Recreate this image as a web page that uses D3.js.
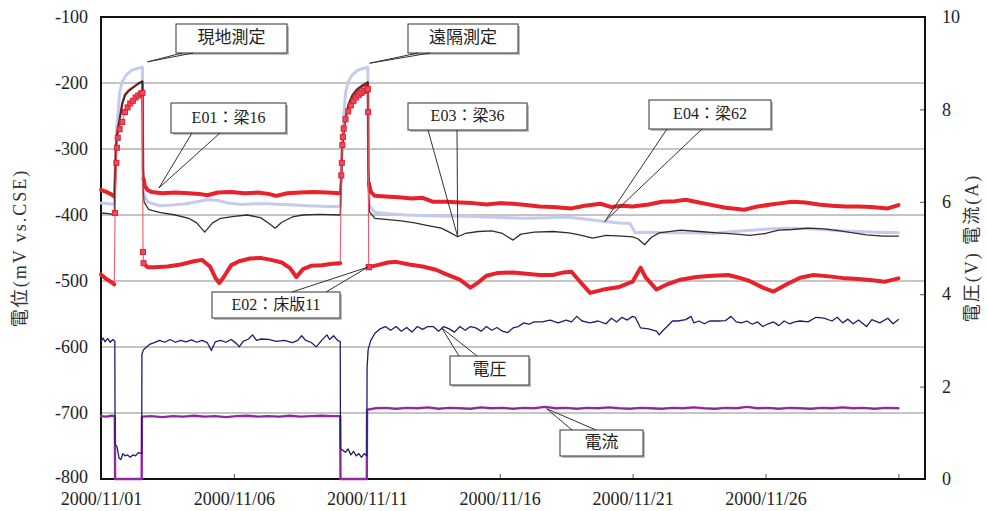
<!DOCTYPE html>
<html>
<head>
<meta charset="utf-8">
<script src="https://cdn.jsdelivr.net/npm/d3@7"></script>
<style>
  body { margin: 0; background: #fff; }
  svg { display: block; }
</style>
</head>
<body>
<svg id="chart" width="987" height="511"></svg>
<script>
// ---- data: days after 2000/11/01 00:00, value ----
const startDate = new Date(2000, 10, 1);
const endDate = new Date(2000, 11, 2);
const xTickDates = ["2000/11/01", "2000/11/06", "2000/11/11", "2000/11/16", "2000/11/21", "2000/11/26", "2000/12/01"];
const xTickLabels = ["2000/11/01", "2000/11/06", "2000/11/11", "2000/11/16", "2000/11/21", "2000/11/26", ""];
const potentialTicks = [-100, -200, -300, -400, -500, -600, -700, -800];
const powerTicks = [0, 2, 4, 6, 8, 10];
// current switched off (instant-off measurements)
const offPeriods = [[0.5, 1.6], [9.0, 10.08]];

// E01 : 梁16 (mV)
const e01 = [
  [0, -362], [0.2, -365], [0.4, -369], [0.5, -372],
  [0.53, -345], [0.56, -300], [0.6, -280], [0.7, -255], [0.8, -231], [0.9, -218], [1.05, -211], [1.2, -207], [1.4, -201], [1.56, -198],
  [1.58, -330], [1.6, -345], [1.65, -356], [1.75, -362], [1.9, -365], [2.3, -367], [2.8, -366], [3.3, -367], [3.7, -368], [4.0, -370],
  [4.4, -366], [4.9, -365], [5.4, -367], [5.9, -366], [6.3, -368], [6.6, -371], [7.0, -367], [7.5, -366], [8.0, -365], [8.5, -366], [9.0, -367],
  [9.04, -345], [9.07, -300], [9.12, -278], [9.2, -255], [9.3, -236], [9.45, -222], [9.6, -213], [9.8, -206], [10.0, -201], [10.04, -200],
  [10.06, -330], [10.08, -352], [10.15, -365], [10.3, -371], [10.7, -372], [11.2, -373], [11.7, -375], [12.1, -374], [12.5, -380],
  [13.0, -380], [13.5, -381], [14.0, -382], [14.5, -384], [15.0, -382], [15.5, -383], [16.0, -385], [16.5, -387], [17.0, -388],
  [17.7, -390], [18.2, -386], [18.8, -383], [19.2, -388], [19.6, -386], [20.0, -387], [20.6, -384], [21.1, -380], [21.6, -379],
  [22.0, -377], [22.5, -381], [23.0, -385], [23.5, -389], [24.2, -392], [24.6, -388], [25.2, -384], [25.6, -382], [26.0, -380],
  [26.5, -381], [27.0, -384], [27.5, -386], [28.0, -387], [28.5, -387], [29.0, -388], [29.6, -390], [30.0, -385]
];

// E02 : 床版11 (mV)
const e02 = [
  [0, -490], [0.2, -497], [0.4, -502], [0.5, -505],
  [0.53, -397], [0.58, -321], [0.6, -298], [0.63, -283], [0.7, -270], [0.8, -259], [0.9, -244], [1.0, -237], [1.1, -231],
  [1.2, -227], [1.3, -222], [1.4, -219], [1.5, -216], [1.56, -215], [1.58, -456], [1.6, -473],
  [1.75, -479], [2.0, -479], [2.5, -478], [3.0, -475], [3.5, -470], [3.8, -468], [4.1, -478], [4.3, -495], [4.45, -503],
  [4.6, -495], [4.9, -476], [5.2, -470], [5.6, -466], [6.0, -465], [6.4, -468], [6.8, -472], [7.1, -480], [7.35, -494],
  [7.6, -482], [7.9, -477], [8.3, -476], [8.7, -474], [9.0, -473],
  [9.04, -340], [9.06, -321], [9.08, -294], [9.1, -282], [9.13, -269], [9.2, -255], [9.3, -243], [9.4, -234], [9.5, -227],
  [9.6, -222], [9.7, -218], [9.8, -215], [9.9, -212], [10.0, -210], [10.04, -209], [10.05, -244], [10.07, -479],
  [10.08, -479], [10.4, -476], [10.8, -472], [11.1, -471], [11.6, -475], [12.1, -478], [12.6, -483], [13.0, -490],
  [13.5, -498], [13.9, -510], [14.2, -502], [14.5, -492], [14.9, -488], [15.5, -487], [16.0, -489], [16.5, -491],
  [17.0, -491], [17.4, -487], [17.7, -486], [18.0, -500], [18.4, -518], [18.9, -513], [19.5, -509], [20.0, -501],
  [20.3, -480], [20.5, -495], [20.9, -513], [21.3, -505], [21.8, -498], [22.4, -494], [23.0, -492], [23.6, -491],
  [24.0, -495], [24.4, -500], [24.9, -510], [25.3, -516], [25.8, -505], [26.3, -495], [26.8, -491], [27.4, -493],
  [28.0, -496], [28.5, -497], [29.0, -499], [29.5, -501], [30.0, -496]
];

// E03 : 梁36 (mV)
const e03 = [
  [0, -397], [0.3, -398], [0.5, -400],
  [0.53, -350], [0.57, -300], [0.62, -272], [0.7, -254], [0.8, -232], [0.9, -219], [1.05, -212], [1.2, -207], [1.4, -201], [1.56, -197],
  [1.58, -360], [1.62, -380], [1.8, -392], [2.2, -396], [2.8, -400], [3.3, -405], [3.6, -412], [3.9, -426], [4.2, -412],
  [4.5, -405], [5.0, -402], [5.5, -400], [6.0, -404], [6.3, -412], [6.55, -420], [6.8, -411], [7.2, -403], [7.6, -400],
  [8.2, -399], [9.0, -400],
  [9.04, -350], [9.08, -300], [9.13, -272], [9.2, -252], [9.3, -232], [9.45, -218], [9.6, -210], [9.8, -204], [10.04, -198],
  [10.06, -360], [10.1, -395], [10.3, -405], [10.8, -407], [11.3, -409], [11.8, -412], [12.3, -416], [12.8, -420],
  [13.1, -426], [13.42, -433], [13.7, -428], [14.2, -425], [14.7, -424], [15.1, -428], [15.5, -438], [15.8, -429],
  [16.3, -426], [17.0, -425], [17.6, -427], [18.0, -430], [18.5, -435], [19.0, -431], [19.6, -432], [20.0, -433],
  [20.2, -436], [20.45, -445], [20.7, -434], [21.0, -427], [21.8, -423], [22.5, -425], [23.2, -427], [23.9, -429],
  [24.4, -431], [25.0, -428], [25.5, -423], [26.0, -422], [26.6, -420], [27.2, -421], [27.8, -424], [28.3, -427],
  [28.8, -430], [29.4, -432], [30.0, -432]
];

// E04 : 梁62 (mV)
const e04 = [
  [0, -382], [0.3, -383], [0.5, -384],
  [0.53, -330], [0.6, -265], [0.7, -215], [0.8, -198], [0.95, -188], [1.15, -181], [1.35, -178], [1.56, -176],
  [1.58, -340], [1.62, -368], [1.75, -380], [2.2, -386], [2.7, -385], [3.2, -383], [3.6, -380], [4.0, -377], [4.4, -378],
  [4.8, -382], [5.3, -384], [5.8, -383], [6.3, -383], [6.8, -384], [7.3, -385], [7.8, -386], [8.5, -387], [9.0, -387],
  [9.04, -330], [9.1, -265], [9.2, -215], [9.3, -198], [9.45, -188], [9.65, -181], [9.85, -178], [10.04, -176],
  [10.06, -340], [10.1, -385], [10.3, -396], [10.8, -398], [11.5, -400], [12.3, -401], [13.0, -402], [13.8, -402],
  [14.5, -403], [15.3, -404], [16.0, -405], [16.8, -404], [17.5, -403], [18.2, -406], [18.95, -410], [19.5, -412],
  [19.9, -413], [20.1, -427], [20.6, -426], [21.3, -427], [22.2, -427], [23.0, -428], [23.8, -425], [24.5, -423],
  [25.2, -421], [25.9, -420], [26.5, -421], [27.2, -422], [27.8, -424], [28.5, -425], [29.2, -426], [30.0, -427]
];

// 電圧 (V)
const voltage = [
  [0, 2.98], [0.08, 3.05], [0.15, 2.97], [0.25, 3.04], [0.35, 2.96], [0.45, 3.02], [0.52, 2.98],
  [0.53, 0.75], [0.6, 0.7], [0.68, 0.45], [0.75, 0.42], [0.82, 0.55], [0.9, 0.5], [1.0, 0.52], [1.1, 0.47], [1.2, 0.52],
  [1.3, 0.5], [1.4, 0.57], [1.53, 0.55],
  [1.54, 2.7], [1.6, 2.8], [1.7, 2.85], [1.85, 2.92], [2.0, 2.95], [2.2, 3.0], [2.4, 2.96], [2.6, 3.02], [2.8, 2.96],
  [3.0, 3.0], [3.2, 2.97], [3.4, 3.01], [3.6, 2.96], [3.8, 3.0], [4.0, 2.95], [4.15, 2.78], [4.3, 2.97], [4.5, 3.0],
  [4.7, 2.96], [4.9, 3.02], [5.1, 2.93], [5.2, 2.86], [5.35, 2.98], [5.55, 3.03], [5.7, 3.12], [5.85, 3.0], [6.0, 3.03],
  [6.3, 3.02], [6.6, 2.98], [6.9, 3.0], [7.2, 2.95], [7.4, 3.0], [7.55, 3.1], [7.7, 3.0], [7.9, 2.96], [8.1, 2.86],
  [8.3, 3.0], [8.5, 3.12], [8.6, 3.02], [8.75, 3.1], [8.9, 3.0], [9.0, 2.98],
  [9.01, 0.65], [9.1, 0.62], [9.2, 0.58], [9.3, 0.65], [9.4, 0.52], [9.5, 0.6], [9.6, 0.5], [9.7, 0.55], [9.8, 0.47],
  [9.9, 0.55], [10.0, 0.5],
  [10.01, 2.4], [10.05, 2.8], [10.15, 3.0], [10.3, 3.15], [10.5, 3.25], [10.7, 3.3], [10.9, 3.22], [11.1, 3.3], [11.3, 3.2],
  [11.5, 3.28], [11.7, 3.18], [11.9, 3.3], [12.1, 3.24], [12.3, 3.3], [12.5, 3.3], [12.7, 3.2], [12.9, 3.3], [13.1, 3.25],
  [13.3, 3.18], [13.5, 3.3], [13.7, 3.22], [13.9, 3.3], [14.1, 3.27], [14.3, 3.2], [14.5, 3.3], [14.7, 3.22], [14.9, 3.28],
  [15.1, 3.2], [15.3, 3.17], [15.5, 3.27], [15.7, 3.3], [15.9, 3.38], [16.1, 3.35], [16.3, 3.4], [16.6, 3.4], [16.9, 3.44],
  [17.2, 3.38], [17.5, 3.44], [17.7, 3.4], [17.9, 3.52], [18.1, 3.42], [18.4, 3.38], [18.7, 3.42], [19.0, 3.36], [19.2, 3.48],
  [19.4, 3.4], [19.6, 3.5], [19.8, 3.44], [20.0, 3.52], [20.1, 3.5], [20.3, 3.27], [20.6, 3.25], [20.9, 3.2], [21.0, 3.12],
  [21.15, 3.22], [21.3, 3.3], [21.5, 3.42], [21.7, 3.42], [22.0, 3.45], [22.2, 3.52], [22.3, 3.38], [22.5, 3.42], [22.7, 3.36],
  [22.9, 3.42], [23.2, 3.42], [23.5, 3.43], [23.7, 3.52], [23.9, 3.4], [24.1, 3.38], [24.3, 3.42], [24.5, 3.35], [24.7, 3.4],
  [24.9, 3.3], [25.1, 3.36], [25.3, 3.4], [25.5, 3.32], [25.7, 3.42], [25.9, 3.36], [26.1, 3.4], [26.3, 3.42], [26.6, 3.4],
  [26.9, 3.5], [27.2, 3.48], [27.5, 3.42], [27.7, 3.5], [27.9, 3.38], [28.1, 3.46], [28.3, 3.36], [28.5, 3.44], [28.8, 3.3],
  [29.0, 3.45], [29.3, 3.38], [29.6, 3.48], [29.8, 3.36], [30.0, 3.45]
];

// 電流 (A)
const current = [
  [0, 1.36], [0.2, 1.35], [0.4, 1.37], [0.52, 1.36], [0.53, 0], [1.53, 0],
  [1.54, 1.35], [1.9, 1.36], [2.3, 1.34], [2.7, 1.36], [3.1, 1.35], [3.5, 1.37], [3.9, 1.35], [4.3, 1.36], [4.7, 1.34],
  [5.1, 1.36], [5.5, 1.37], [5.9, 1.35], [6.3, 1.36], [6.7, 1.35], [7.1, 1.37], [7.5, 1.35], [7.9, 1.36], [8.3, 1.37],
  [8.7, 1.36], [9.0, 1.36], [9.01, 0], [10.0, 0],
  [10.01, 1.5], [10.3, 1.53], [10.7, 1.54], [11.1, 1.52], [11.5, 1.54], [11.9, 1.53], [12.3, 1.55], [12.7, 1.52],
  [13.1, 1.54], [13.5, 1.53], [13.9, 1.52], [14.3, 1.55], [14.7, 1.53], [15.1, 1.54], [15.5, 1.52], [15.9, 1.54],
  [16.3, 1.53], [16.7, 1.56], [17.1, 1.53], [17.5, 1.54], [17.9, 1.52], [18.3, 1.54], [18.7, 1.53], [19.1, 1.55],
  [19.5, 1.53], [19.9, 1.52], [20.3, 1.54], [20.7, 1.53], [21.1, 1.52], [21.5, 1.54], [21.9, 1.53], [22.3, 1.55],
  [22.7, 1.53], [23.1, 1.52], [23.5, 1.54], [23.9, 1.53], [24.3, 1.56], [24.7, 1.53], [25.1, 1.54], [25.5, 1.52],
  [25.9, 1.54], [26.3, 1.53], [26.7, 1.52], [27.1, 1.54], [27.5, 1.53], [27.9, 1.55], [28.3, 1.53], [28.7, 1.54],
  [29.1, 1.52], [29.5, 1.54], [30.0, 1.53]
];

// ---- layout ----
const svg = d3.select("#chart");
const plot = { left: 101, right: 925, top: 17, bottom: 479 };
const serif = "'Liberation Serif', 'Noto Sans CJK JP', serif";
const jp = "'Liberation Serif', 'Noto Sans CJK JP', sans-serif";

const toDate = d => new Date(startDate.getTime() + d * 864e5);
const x = d3.scaleTime().domain([startDate, endDate]).range([plot.left, plot.right]);
const yL = d3.scaleLinear().domain([-800, -100]).range([plot.bottom, plot.top]);
const yR = d3.scaleLinear().domain([0, 10]).range([plot.bottom, plot.top]);
const parse = d3.timeParse("%Y/%m/%d");

// horizontal grid
svg.append("g").selectAll("line")
  .data(potentialTicks.slice(1, -1))
  .join("line")
  .attr("x1", plot.left).attr("x2", plot.right)
  .attr("y1", d => yL(d)).attr("y2", d => yL(d))
  .attr("stroke", "#8a8a8a").attr("stroke-width", 1);

// axes
const leftAxis = d3.axisLeft(yL).tickValues(potentialTicks).tickSize(0).tickPadding(13)
  .tickFormat(d => d3.format("d")(d).replace("−", "-"));
const gL = svg.append("g").attr("transform", `translate(${plot.left},0)`).call(leftAxis);
gL.select(".domain").remove();
gL.selectAll("text").attr("font-family", serif).attr("font-size", 18).attr("fill", "#222");
gL.selectAll(".tick").filter(d => d === -800).select("text").attr("dy", "0.22em");

const rightAxis = d3.axisRight(yR).tickValues(powerTicks).tickSize(-5).tickPadding(17);
const gR = svg.append("g").attr("transform", `translate(${plot.right},0)`).call(rightAxis);
gR.select(".domain").remove();
gR.selectAll("line").attr("stroke", "#555");
gR.selectAll("text").attr("font-family", serif).attr("font-size", 18).attr("fill", "#222");

const bottomAxis = d3.axisBottom(x).tickValues(xTickDates.map(parse)).tickSize(-5).tickPadding(13)
  .tickFormat((d, i) => xTickLabels[i]);
const gB = svg.append("g").attr("transform", `translate(0,${plot.bottom})`).call(bottomAxis);
gB.select(".domain").remove();
gB.selectAll("line").attr("stroke", "#555");
gB.selectAll("text").attr("font-family", serif).attr("font-size", 18).attr("fill", "#222");

// frame
svg.append("rect")
  .attr("x", plot.left).attr("y", plot.top)
  .attr("width", plot.right - plot.left).attr("height", plot.bottom - plot.top)
  .attr("fill", "none").attr("stroke", "#111").attr("stroke-width", 2);

// axis titles
svg.append("text")
  .attr("transform", `translate(22,${(plot.top + plot.bottom) / 2}) rotate(-90)`)
  .attr("text-anchor", "middle").attr("dominant-baseline", "middle")
  .attr("font-family", jp).attr("font-size", 18).attr("letter-spacing", 2)
  .attr("fill", "#333").text("電位(mV vs.CSE)");
svg.append("text")
  .attr("transform", `translate(974,${(plot.top + plot.bottom) / 2}) rotate(-90)`)
  .attr("text-anchor", "middle").attr("dominant-baseline", "middle")
  .attr("font-family", jp).attr("font-size", 18).attr("letter-spacing", 2)
  .attr("fill", "#333").text("電圧(V) 電流(A)");

// ---- series ----
const lineL = d3.line().x(d => x(toDate(d[0]))).y(d => yL(d[1]));
const lineR = d3.line().x(d => x(toDate(d[0]))).y(d => yR(d[1]));
const steady = d => !offPeriods.some(([a, b]) => d > a && d < b);
const inOff = d => offPeriods.some(([a, b]) => d > a && d <= b);

function steadySegments(data) {
  const segs = [];
  let cur = [];
  data.forEach(p => {
    if (steady(p[0])) cur.push(p);
    else { if (cur.length) segs.push(cur); cur = []; }
  });
  if (cur.length) segs.push(cur);
  return segs;
}

const gS = svg.append("g").attr("fill", "none").attr("stroke-linejoin", "round").attr("stroke-linecap", "round");

// current and voltage (right axis)
gS.append("path").datum(current).attr("d", lineR)
  .attr("stroke", "#a02cae").attr("stroke-width", 2.4);
gS.append("path").datum(current).attr("d", lineR)
  .attr("stroke", "#5a2070").attr("stroke-width", 0.8).attr("opacity", 0.5);
gS.append("path").datum(voltage).attr("d", lineR)
  .attr("stroke", "#1d1d6c").attr("stroke-width", 1.3);

// E04
gS.append("path").datum(e04).attr("d", lineL)
  .attr("stroke", "#c4cbef").attr("stroke-width", 3);

// E01
gS.append("path").datum(e01).attr("d", lineL)
  .attr("stroke", "#c02828").attr("stroke-width", 2.4);
steadySegments(e01).forEach(s => gS.append("path").datum(s).attr("d", lineL)
  .attr("stroke", "#e8222a").attr("stroke-width", 4));

// E03
gS.append("path").datum(e03).attr("d", lineL)
  .attr("stroke", "#2e2e2e").attr("stroke-width", 1.3);

// E02
gS.append("path").datum(e02).attr("d", lineL)
  .attr("stroke", "#ee5a6a").attr("stroke-width", 1.1);
steadySegments(e02).forEach(s => gS.append("path").datum(s).attr("d", lineL)
  .attr("stroke", "#e8222a").attr("stroke-width", 4));
svg.append("g").selectAll("rect")
  .data(e02.filter(p => inOff(p[0])))
  .join("rect")
  .attr("x", d => x(toDate(d[0])) - 2.5).attr("y", d => yL(d[1]) - 2.5)
  .attr("width", 5).attr("height", 5)
  .attr("fill", "#ec4a60").attr("stroke", "#e0202e").attr("stroke-width", 1);

// ---- callouts ----
const callouts = [
  { text: "現地測定", box: [176, 24, 111, 29], size: 17, side: "bottom", base: [182, 193], at: [1.75, -168], scale: yL },
  { text: "遠隔測定", box: [408, 24, 110, 29], size: 17, side: "bottom", base: [418, 430], at: [10.11, -170], scale: yL },
  { text: "E01：梁16", box: [171, 103, 115, 30], size: 16, side: "bottom", base: [192, 220], at: [2.18, -359], scale: yL },
  { text: "E03：梁36", box: [408, 103, 119, 27], size: 16, side: "bottom", base: [428, 457], at: [13.42, -433], scale: yL },
  { text: "E04：梁62", box: [649, 100, 122, 29], size: 16, side: "bottom", base: [667, 702], at: [18.95, -410], scale: yL },
  { text: "E02：床版11", box: [212, 292, 128, 26], size: 16, side: "top", base: [292, 326], at: [10.04, -479], scale: yL },
  { text: "電圧", box: [450, 356, 79, 29], size: 17, side: "top", base: [459, 477], at: [12.82, 3.27], scale: yR },
  { text: "電流", box: [560, 430, 83, 26], size: 17, side: "top", base: [572, 596], at: [16.77, 1.52], scale: yR }
];

const gC = svg.append("g");
callouts.forEach(c => {
  const [bx, by, bw, bh] = c.box;
  const tx = x(toDate(c.at[0])), ty = c.scale(c.at[1]);
  const ey = c.side === "bottom" ? by + bh : by;
  gC.append("rect").attr("x", bx + 2).attr("y", by + 2).attr("width", bw).attr("height", bh)
    .attr("fill", "#bdbdbd");
  gC.append("rect").attr("x", bx).attr("y", by).attr("width", bw).attr("height", bh)
    .attr("fill", "#fff").attr("stroke", "#444").attr("stroke-width", 1.1);
  c.base.forEach(b => gC.append("line")
    .attr("x1", b).attr("y1", ey).attr("x2", tx).attr("y2", ty)
    .attr("stroke", "#333").attr("stroke-width", 1));
  gC.append("text")
    .attr("x", bx + bw / 2).attr("y", by + bh / 2 + 1)
    .attr("text-anchor", "middle").attr("dominant-baseline", "middle")
    .attr("font-family", jp).attr("font-size", c.size).attr("fill", "#222")
    .text(c.text);
});
</script>
</body>
</html>
